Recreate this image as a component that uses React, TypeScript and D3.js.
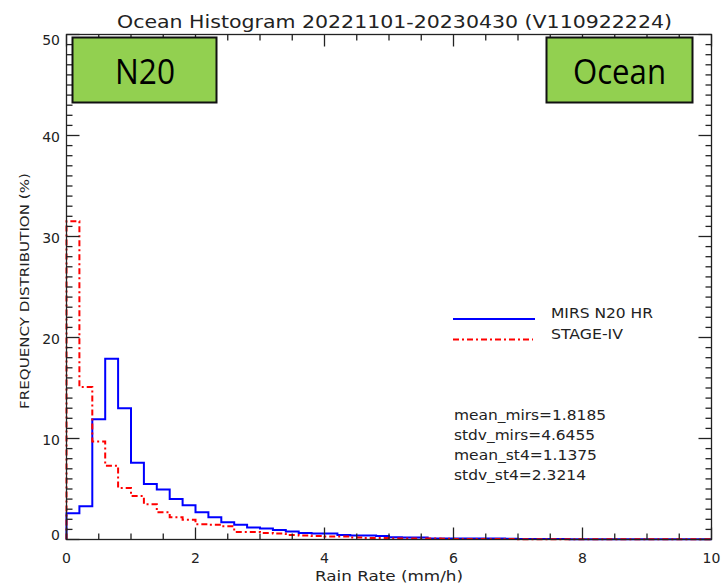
import React from "react";
import * as d3 from "d3";

const binWidth = 0.2;
const mirsValues = [
  2.6, 3.3, 11.9, 17.9, 13.0, 7.6, 5.5, 4.95, 4.0, 3.4,
  2.7, 2.2, 1.7, 1.45, 1.2, 1.1, 0.95, 0.8, 0.65, 0.6,
  0.6, 0.45, 0.4, 0.4, 0.35, 0.22, 0.2, 0.2, 0.1, 0.1,
  0.1, 0.1, 0.1, 0.1, 0.08, 0.06, 0.05, 0.05, 0.04, 0.03,
  0.03, 0.03, 0.02, 0.02, 0.02, 0.02, 0.02, 0.02, 0.02, 0.02,
];
const stage4Values = [
  31.5, 15.1, 9.7, 7.3, 5.1, 4.3, 3.5, 2.7, 2.2, 1.95,
  1.5, 1.45, 1.3, 0.75, 0.75, 0.65, 0.6, 0.45, 0.4, 0.35,
  0.3, 0.3, 0.2, 0.15, 0.15, 0.1, 0.1, 0.1, 0.1, 0.08,
  0.06, 0.05, 0.05, 0.04, 0.04, 0.03, 0.03, 0.03, 0.02, 0.02,
  0.02, 0.02, 0.02, 0.02, 0.02, 0.02, 0.02, 0.02, 0.02, 0.02,
];
const xMajorTicks = [0, 2, 4, 6, 8, 10];
const yMajorTicks = [0, 10, 20, 30, 40, 50];
const titleText = "Ocean Histogram 20221101-20230430 (V110922224)";
const xTitle = "Rain Rate (mm/h)";
const yTitle = "FREQUENCY DISTRIBUTION (%)";
const legendLabels = ["MIRS N20 HR", "STAGE-IV"];
const statLines = [
  "mean_mirs=1.8185",
  "stdv_mirs=4.6455",
  "mean_st4=1.1375",
  "stdv_st4=2.3214",
];
const statWidths = [152, 141, 143, 132];

const W = 721;
const H = 586;
const L = 66.5, R = 711.5, T = 34.5, B = 539.5;
const FONT = "'DejaVu Sans', sans-serif";

export default function App() {
  const x = d3.scaleLinear().domain([0, 10]).range([L, R]);
  const y = d3.scaleLinear().domain([0, 50]).range([B, T]);

  const stepPath = (vals: number[]) => {
    const pts: [number, number][] = [[0, 0]];
    vals.forEach((v, i) => {
      pts.push([i * binWidth, v]);
      pts.push([(i + 1) * binWidth, v]);
    });
    const line = d3.line<[number, number]>().x((d) => x(d[0])).y((d) => y(d[1]));
    return line(pts) || "";
  };

  const xMinor = d3.range(0, 10.001, 0.5).filter((v) => !xMajorTicks.includes(v));
  const yMinor = d3.range(0, 50.001, 1).filter((v) => !yMajorTicks.includes(v));

  const textColor = "#222";

  return (
    <svg width={W} height={H} style={{ position: "absolute", left: 0, top: 0, background: "#fff" }}>
      <rect x={0} y={0} width={W} height={H} fill="#fff" />
      {/* title */}
      <text x={117} y={28} fontFamily={FONT} fontSize={17} fill={textColor}
        textLength={555} lengthAdjust="spacingAndGlyphs">{titleText}</text>

      {/* data */}
      <path d={stepPath(mirsValues)} fill="none" stroke="#0000ff" strokeWidth={2} />
      <path d={stepPath(stage4Values)} fill="none" stroke="#ff0000" strokeWidth={2}
        strokeDasharray="6,3,2,3" />

      {/* frame */}
      <rect x={L} y={T} width={R - L} height={B - T} fill="none" stroke="#222" strokeWidth={1.3} />

      {/* x ticks */}
      {xMajorTicks.map((v) => (
        <g key={"xM" + v}>
          <line x1={x(v)} x2={x(v)} y1={B} y2={B - 12} stroke="#222" strokeWidth={1.3} />
          <line x1={x(v)} x2={x(v)} y1={T} y2={T + 12} stroke="#222" strokeWidth={1.3} />
          <text x={x(v)} y={563} textAnchor="middle" fontFamily={FONT} fontSize={14} fill={textColor}>{v}</text>
        </g>
      ))}
      {xMinor.map((v) => (
        <g key={"xm" + v}>
          <line x1={x(v)} x2={x(v)} y1={B} y2={B - 6} stroke="#222" strokeWidth={1.3} />
          <line x1={x(v)} x2={x(v)} y1={T} y2={T + 6} stroke="#222" strokeWidth={1.3} />
        </g>
      ))}

      {/* y ticks */}
      {yMajorTicks.map((v) => (
        <g key={"yM" + v}>
          <line x1={L} x2={L + 13} y1={y(v)} y2={y(v)} stroke="#222" strokeWidth={1.3} />
          <line x1={R} x2={R - 13} y1={y(v)} y2={y(v)} stroke="#222" strokeWidth={1.3} />
          <text x={60} y={Math.min(540, Math.max(45, y(v) + 6))} textAnchor="end"
            fontFamily={FONT} fontSize={14} fill={textColor}>{v}</text>
        </g>
      ))}
      {yMinor.map((v) => (
        <g key={"ym" + v}>
          <line x1={L} x2={L + 6} y1={y(v)} y2={y(v)} stroke="#222" strokeWidth={1.3} />
          <line x1={R} x2={R - 6} y1={y(v)} y2={y(v)} stroke="#222" strokeWidth={1.3} />
        </g>
      ))}

      {/* axis titles */}
      <text x={(L + R) / 2} y={581} textAnchor="middle" fontFamily={FONT} fontSize={14} fill={textColor}
        textLength={148} lengthAdjust="spacingAndGlyphs">{xTitle}</text>
      <text transform={`translate(29,${291}) rotate(-90)`} textAnchor="middle" fontFamily={FONT}
        fontSize={13} fill={textColor} textLength={236} lengthAdjust="spacingAndGlyphs">{yTitle}</text>

      {/* legend */}
      <line x1={453} x2={535} y1={319} y2={319} stroke="#0000ff" strokeWidth={2} />
      <line x1={453} x2={533} y1={339.5} y2={339.5} stroke="#ff0000" strokeWidth={2} strokeDasharray="6,3,2,3" />
      <text x={551} y={318} fontFamily={FONT} fontSize={14} fill={textColor}
        textLength={102} lengthAdjust="spacingAndGlyphs">{legendLabels[0]}</text>
      <text x={551} y={339} fontFamily={FONT} fontSize={14} fill={textColor}
        textLength={72} lengthAdjust="spacingAndGlyphs">{legendLabels[1]}</text>

      {/* stats */}
      {statLines.map((s, i) => (
        <text key={s} x={454} y={420 + i * 20} fontFamily={FONT} fontSize={14} fill={textColor}
          textLength={statWidths[i]} lengthAdjust="spacingAndGlyphs">{s}</text>
      ))}

      {/* label boxes */}
      <rect x={72.5} y={37.5} width={144} height={65} fill="#92d050" stroke="#111" strokeWidth={2} />
      <text x={115} y={83.5} fontFamily="'Open Sans', sans-serif" fontSize={35} fill="#000"
        textLength={60} lengthAdjust="spacingAndGlyphs">N20</text>
      <rect x={546.5} y={37.5} width={146} height={65} fill="#92d050" stroke="#111" strokeWidth={2} />
      <text x={573} y={83.5} fontFamily="'Open Sans', sans-serif" fontSize={35} fill="#000"
        textLength={93} lengthAdjust="spacingAndGlyphs">Ocean</text>
    </svg>
  );
}
